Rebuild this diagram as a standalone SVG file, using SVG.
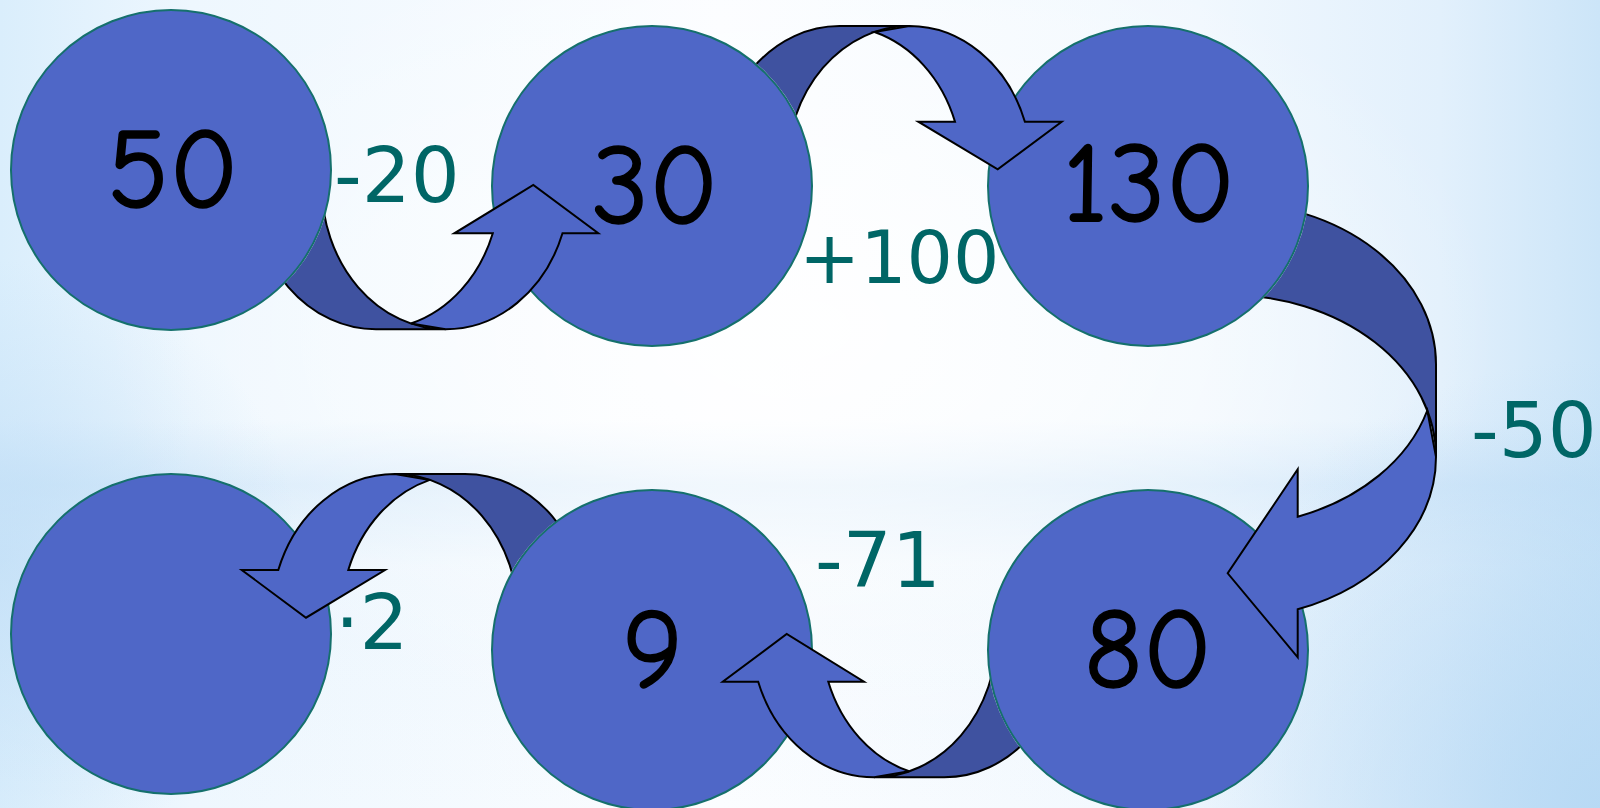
<svg xmlns="http://www.w3.org/2000/svg" width="1600" height="808" viewBox="0 0 1600 808">
  <style>
    .node { fill: #4F67C7; stroke: #15706C; stroke-width: 2; }
    .num { font-family: "Comic Sans MS", "Comic Neue", "DejaVu Sans", sans-serif; font-size: 114px; fill: #000000; stroke: #000000; stroke-width: 1.5; text-anchor: middle; }
    .back { fill: #3F52A0; stroke: #000000; stroke-width: 2; stroke-linejoin: miter; }
    .front { fill: #4F67C7; stroke: #000000; stroke-width: 2; stroke-linejoin: miter; }
    .lbl { font-family: "DejaVu Sans", Verdana, sans-serif; font-size: 77px; fill: #006666; }
    .lbl-s { font-size: 73px; }
  </style>
  <defs>
    <linearGradient id="bgH" x1="0" y1="0" x2="1" y2="0">
      <stop offset="0" stop-color="#DAEEFC"/>
      <stop offset="0.12" stop-color="#EEF7FE"/>
      <stop offset="0.45" stop-color="#FBFDFF"/>
      <stop offset="0.75" stop-color="#F1F8FE"/>
      <stop offset="0.9" stop-color="#E2F0FC"/>
      <stop offset="1" stop-color="#CCE5F8"/>
    </linearGradient>
    <linearGradient id="bgBand" x1="0" y1="0" x2="0" y2="1">
      <stop offset="0" stop-color="#BFDDF6" stop-opacity="0"/>
      <stop offset="0.52" stop-color="#BFDDF6" stop-opacity="0"/>
      <stop offset="0.6" stop-color="#BFDDF6" stop-opacity="0.45"/>
      <stop offset="0.7" stop-color="#BFDDF6" stop-opacity="0.08"/>
      <stop offset="1" stop-color="#BFDDF6" stop-opacity="0"/>
    </linearGradient>
    <radialGradient id="bgGlow" cx="800" cy="330" r="700" gradientUnits="userSpaceOnUse" gradientTransform="translate(800 330) scale(1 0.6) translate(-800 -330)">
      <stop offset="0" stop-color="#FFFFFF" stop-opacity="0.9"/>
      <stop offset="0.6" stop-color="#FFFFFF" stop-opacity="0.35"/>
      <stop offset="1" stop-color="#FFFFFF" stop-opacity="0"/>
    </radialGradient>
    <radialGradient id="bgBR" cx="1600" cy="808" r="450" gradientUnits="userSpaceOnUse">
      <stop offset="0" stop-color="#B5D8F4" stop-opacity="0.9"/>
      <stop offset="1" stop-color="#B5D8F4" stop-opacity="0"/>
    </radialGradient>
    <radialGradient id="bgBL" cx="0" cy="560" r="300" gradientUnits="userSpaceOnUse">
      <stop offset="0" stop-color="#BFDDF6" stop-opacity="0.7"/>
      <stop offset="1" stop-color="#BFDDF6" stop-opacity="0"/>
    </radialGradient>
    <mask id="m50" maskUnits="userSpaceOnUse" x="0" y="0" width="1600" height="808">
      <rect x="0" y="0" width="1600" height="808" fill="#fff"/>
      <circle cx="171" cy="170" r="161" fill="#000"/>
    </mask>
    <mask id="m30" maskUnits="userSpaceOnUse" x="0" y="0" width="1600" height="808">
      <rect x="0" y="0" width="1600" height="808" fill="#fff"/>
      <circle cx="652" cy="186" r="161" fill="#000"/>
    </mask>
    <mask id="m130" maskUnits="userSpaceOnUse" x="0" y="0" width="1600" height="808">
      <rect x="0" y="0" width="1600" height="808" fill="#fff"/>
      <circle cx="1148" cy="186" r="161" fill="#000"/>
    </mask>
    <mask id="m80" maskUnits="userSpaceOnUse" x="0" y="0" width="1600" height="808">
      <rect x="0" y="0" width="1600" height="808" fill="#fff"/>
      <circle cx="1148" cy="650" r="161" fill="#000"/>
    </mask>
    <mask id="m9" maskUnits="userSpaceOnUse" x="0" y="0" width="1600" height="808">
      <rect x="0" y="0" width="1600" height="808" fill="#fff"/>
      <circle cx="652" cy="650" r="161" fill="#000"/>
    </mask>
  </defs>

  <g id="background">
    <rect x="0" y="0" width="1600" height="808" fill="url(#bgH)"/>
    <rect x="0" y="0" width="1600" height="808" fill="url(#bgBand)"/>
    <rect x="0" y="0" width="1600" height="808" fill="url(#bgGlow)"/>
    <rect x="0" y="0" width="1600" height="808" fill="url(#bgBR)"/>
    <rect x="0" y="0" width="1600" height="808" fill="url(#bgBL)"/>
  </g>

  <g id="node-50">
    <circle class="node" cx="171" cy="170" r="160"/>
    <text class="num" x="173" y="207">50</text>
  </g>
  <g id="node-30">
    <circle class="node" cx="652" cy="186" r="160"/>
    <text class="num" x="655" y="223">30</text>
  </g>
  <g id="node-130">
    <circle class="node" cx="1148" cy="186" r="160"/>
    <text class="num" x="1149" y="221">130</text>
  </g>
  <g id="node-80">
    <circle class="node" cx="1148" cy="650" r="160"/>
    <text class="num" x="1148" y="687">80</text>
  </g>
  <g id="node-9">
    <circle class="node" cx="652" cy="650" r="160"/>
    <text class="num" x="653" y="687">9</text>
  </g>
  <g id="node-result">
    <circle class="node" cx="171" cy="634" r="160"/>
  </g>

  <g id="connectors">
    <g id="arrow-50-30">
      <path class="back" mask="url(#m50)" d="M252,185 A124,144.3 0 0 0 376,329.3 L445.7,329.3 A124,144.3 0 0 1 321.7,185 Z"/>
      <path class="front" d="M410.9,323.5 A124,144.3 0 0 0 492.8,233.3 L454.3,233.3 L533.3,185 L598.3,233.3 L562.5,233.3 A124,144.3 0 0 1 445.7,329.3 Z"/>
      <text class="lbl" x="334" y="202">-20</text>
    </g>
    <g id="arrow-30-130">
      <path class="back" mask="url(#m30)" d="M717,169.3 A122.5,143.3 0 0 1 839.5,26 L909.4,26 A122.5,143.3 0 0 0 786.9,169.3 Z"/>
      <path class="front" d="M874.5,32 A122.5,143.3 0 0 1 955,121.7 L918.3,121.7 L997.7,169.3 L1061.7,121.7 L1024.9,121.7 A122.5,143.3 0 0 0 909.4,26 Z"/>
      <text class="lbl lbl-s" x="799" y="283">+100</text>
    </g>
    <g id="arrow-130-80">
      <path class="back" mask="url(#m130)" d="M1227.7,202.3 A208.3,161.9 0 0 1 1436,364.2 L1436,456.8 A208.3,161.9 0 0 0 1227.7,294.9 Z"/>
      <path class="front" d="M1427.3,410.5 A208.3,161.9 0 0 1 1297.7,516.7 L1297.7,469.3 L1227.7,573.3 L1297.7,657.3 L1297.7,609.3 A208.3,161.9 0 0 0 1436,456.8 Z"/>
      <text class="lbl" x="1471" y="457">-50</text>
    </g>
    <g id="arrow-80-9">
      <path class="back" mask="url(#m80)" d="M1067.1,634 A122.9,143.3 0 0 1 944.2,777.3 L874.1,777.3 A122.9,143.3 0 0 0 997,634 Z"/>
      <path class="front" d="M909.1,771.3 A122.9,143.3 0 0 1 828.3,681.7 L864,681.7 L786.7,634 L722.7,681.7 L758.2,681.7 A122.9,143.3 0 0 0 874.1,777.3 Z"/>
      <text class="lbl" x="815" y="587">-71</text>
    </g>
    <g id="arrow-9-result">
      <path class="back" mask="url(#m9)" d="M588.3,617.7 A123.5,143.7 0 0 0 464.8,474 L394.8,474 A123.5,143.7 0 0 1 518.3,617.7 Z"/>
      <path class="front" d="M429.8,479.9 A123.5,143.7 0 0 0 348.3,570 L385,570 L306,617.7 L241.7,570 L278.3,570 A123.5,143.7 0 0 1 394.8,474 Z"/>
      <text class="lbl" x="335" y="649">·2</text>
    </g>
  </g>
</svg>
